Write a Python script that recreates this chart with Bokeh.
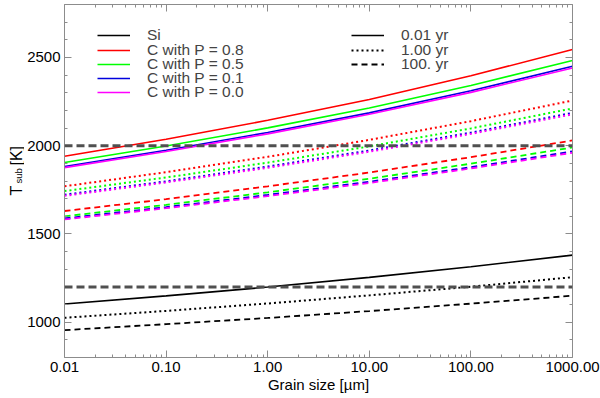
import math
from bokeh.plotting import figure
from bokeh.layouts import row
from bokeh.models import (Legend, LegendItem, LogAxis, LinearAxis, FixedTicker,
                          Label, Range1d, Span)
from bokeh.embed import file_html
from bokeh.resources import INLINE

# ---- data ----
grain_size = [0.01, 0.1, 1.0, 10.0, 100.0, 1000.0]          # micron

si_001yr = [1103, 1149, 1199, 1254, 1314, 1380]
si_1yr   = [1025, 1064, 1106, 1152, 1201, 1255]
si_100yr = [955, 989, 1024, 1063, 1105, 1150]

c08_001yr = [1940, 2037, 2144, 2262, 2396, 2545]
c05_001yr = [1905, 1998, 2101, 2214, 2341, 2483]
c01_001yr = [1882, 1974, 2075, 2186, 2311, 2450]
c00_001yr = [1876, 1967, 2067, 2178, 2302, 2440]

c08_1yr = [1770, 1850, 1937, 2033, 2139, 2256]
c05_1yr = [1743, 1820, 1904, 1996, 2098, 2211]
c01_1yr = [1722, 1798, 1882, 1973, 2074, 2186]
c00_1yr = [1716, 1792, 1875, 1966, 2067, 2178]

c08_100yr = [1630, 1697, 1770, 1848, 1935, 2030]
c05_100yr = [1600, 1665, 1736, 1813, 1898, 1990]
c01_100yr = [1588, 1652, 1721, 1796, 1878, 1968]
c00_100yr = [1582, 1646, 1714, 1789, 1871, 1960]

threshold_temps = [2000, 1200]

x_ticks = [0.01, 0.1, 1.0, 10.0, 100.0, 1000.0]
x_tick_labels = ["0.01", "0.10", "1.00", "10.00", "100.00", "1000.00"]
y_ticks = [1000, 1500, 2000, 2500]

legend_species = ["Si", "C with P = 0.8", "C with P = 0.5", "C with P = 0.1", "C with P = 0.0"]
legend_times = ["0.01 yr", "1.00 yr", "100. yr"]

# ---- styling ----
FONT = "Liberation Sans"
RED, GREEN, BLUE, MAGENTA, BLACK = "#ff0000", "#00ff00", "#0000dd", "#ff00ff", "#000000"
AXIS_GREY = "#8c8c8c"
H = 396
YT_W = 24
FRAME_TOP, FRAME_BOTTOM = 4, 357

p = figure(width=600 - YT_W, height=H, x_axis_type="log",
           x_range=Range1d(0.01, 1000), y_range=Range1d(800, 2800),
           output_backend="svg", toolbar_location=None, title=None,
           min_border_left=64 - YT_W, min_border_right=28, min_border_top=FRAME_TOP,
           min_border_bottom=H - FRAME_BOTTOM)
p.outline_line_color = None
p.xgrid.visible = False
p.ygrid.visible = False

minor_x = [m * 10.0 ** e for e in range(-2, 3) for m in range(2, 10)]
minor_y = list(range(800, 2801, 100))

def style_axis(ax, labels=True):
    ax.axis_line_color = AXIS_GREY
    ax.major_tick_line_color = AXIS_GREY
    ax.minor_tick_line_color = AXIS_GREY
    ax.major_tick_in = 7
    ax.major_tick_out = 0
    ax.minor_tick_in = 3
    ax.minor_tick_out = 0
    ax.major_label_text_font = FONT
    ax.major_label_text_font_size = "15px" if labels else "1px"
    ax.major_label_text_color = BLACK
    if not labels:
        ax.major_label_text_alpha = 0
    ax.major_label_standoff = 4 if labels else 0

xb = p.xaxis[0]
xb.ticker = FixedTicker(ticks=x_ticks, minor_ticks=minor_x)
xb.major_label_overrides = {t: s for t, s in zip(x_ticks, x_tick_labels)}
style_axis(xb)
xb.axis_label = "Grain size [µm]"
xb.axis_label_text_font = FONT
xb.axis_label_text_font_size = "15px"
xb.axis_label_text_font_style = "normal"
xb.axis_label_text_color = BLACK
xb.axis_label_standoff = 1

yl = p.yaxis[0]
yl.ticker = FixedTicker(ticks=y_ticks, minor_ticks=minor_y)
style_axis(yl)
yl.major_label_standoff = 4

xt = LogAxis(ticker=FixedTicker(ticks=x_ticks, minor_ticks=minor_x))
style_axis(xt, labels=False)
p.add_layout(xt, "above")
yr = LinearAxis(ticker=FixedTicker(ticks=y_ticks, minor_ticks=minor_y))
style_axis(yr, labels=False)
p.add_layout(yr, "right")

SOLID_W, DOT_W, DASH_W = 1.6, 2.0, 1.8
DOT, DASH = "2 3", "6 4"

r = {}
def add(name, ys, color, dash, width):
    r[name] = p.line(grain_size, ys, line_color=color, line_dash=dash, line_width=width)

for name, ys, c in [("c08", c08_100yr, RED), ("c05", c05_100yr, GREEN),
                    ("c01", c01_100yr, BLUE), ("c00", c00_100yr, MAGENTA)]:
    add(name + "_100", ys, c, DASH, DASH_W)
for name, ys, c in [("c08", c08_1yr, RED), ("c05", c05_1yr, GREEN),
                    ("c01", c01_1yr, BLUE), ("c00", c00_1yr, MAGENTA)]:
    add(name + "_1", ys, c, DOT, DOT_W)
for name, ys, c in [("c08", c08_001yr, RED), ("c05", c05_001yr, GREEN),
                    ("c01", c01_001yr, BLUE), ("c00", c00_001yr, MAGENTA)]:
    add(name + "_001", ys, c, "solid", SOLID_W)
add("si_100", si_100yr, BLACK, DASH, DASH_W)
add("si_1", si_1yr, BLACK, DOT, DOT_W)
add("si_001", si_001yr, BLACK, "solid", SOLID_W)

for t in threshold_temps:
    p.add_layout(Span(location=t, dimension="width", line_color="#505050",
                      line_width=3, line_dash="8 4"))

# legends: one single-entry legend per row so rows can sit as tightly as in the reference
LEG_FS = 15.5
ROW_H = 1.117 * LEG_FS            # height bokeh gives one legend row
row_centers = [35.7, 50.0, 64.2, 78.5, 92.7]   # screen y of each legend row

def add_legend_row(label, renderer, x_off, center):
    y_loc = FRAME_BOTTOM - center - ROW_H / 2
    lg = Legend(items=[LegendItem(label=label, renderers=[renderer])],
                location=(x_off, y_loc), border_line_color=None, background_fill_alpha=0,
                padding=0, margin=0, spacing=0, glyph_width=33, glyph_height=14,
                label_height=14, label_standoff=17, label_text_font=FONT,
                label_text_font_size=f"{LEG_FS}px", label_text_line_height=1.0)
    p.add_layout(lg)

for lab, key, cy in zip(legend_species, ["si_001", "c08_001", "c05_001", "c01_001", "c00_001"], row_centers):
    add_legend_row(lab, r[key], 33, cy)
for lab, key, cy in zip(legend_times, ["si_001", "si_1", "si_100"], row_centers):
    add_legend_row(lab, r[key], 287, cy)

# y-axis title (with subscript) drawn in a narrow side figure so it is not clipped
yt = figure(width=YT_W, height=H, output_backend="svg", toolbar_location=None, title=None,
            x_range=Range1d(0, 1), y_range=Range1d(0, 1),
            x_axis_location=None, y_axis_location=None,
            min_border_left=0, min_border_right=0, min_border_top=0, min_border_bottom=0)
yt.outline_line_color = None
yt.xgrid.visible = False
yt.ygrid.visible = False
# positions are measured from the bottom-left of this figure's frame, which is aligned with the main frame
for txt, xx, sy, fs in [("T", 15.5, 195, "16px"), ("sub", 17.5, 183, "9.5px"), ("[K]", 15.5, 165, "16px")]:
    yt.add_layout(Label(x=xx, y=FRAME_BOTTOM - sy, x_units="screen", y_units="screen", text=txt,
                        angle=math.pi / 2, text_align="left", text_baseline="alphabetic",
                        text_font=FONT, text_font_size=fs, text_color=BLACK))

layout = row(yt, p, spacing=0)
open("out.html", "w").write(file_html(layout, INLINE))
